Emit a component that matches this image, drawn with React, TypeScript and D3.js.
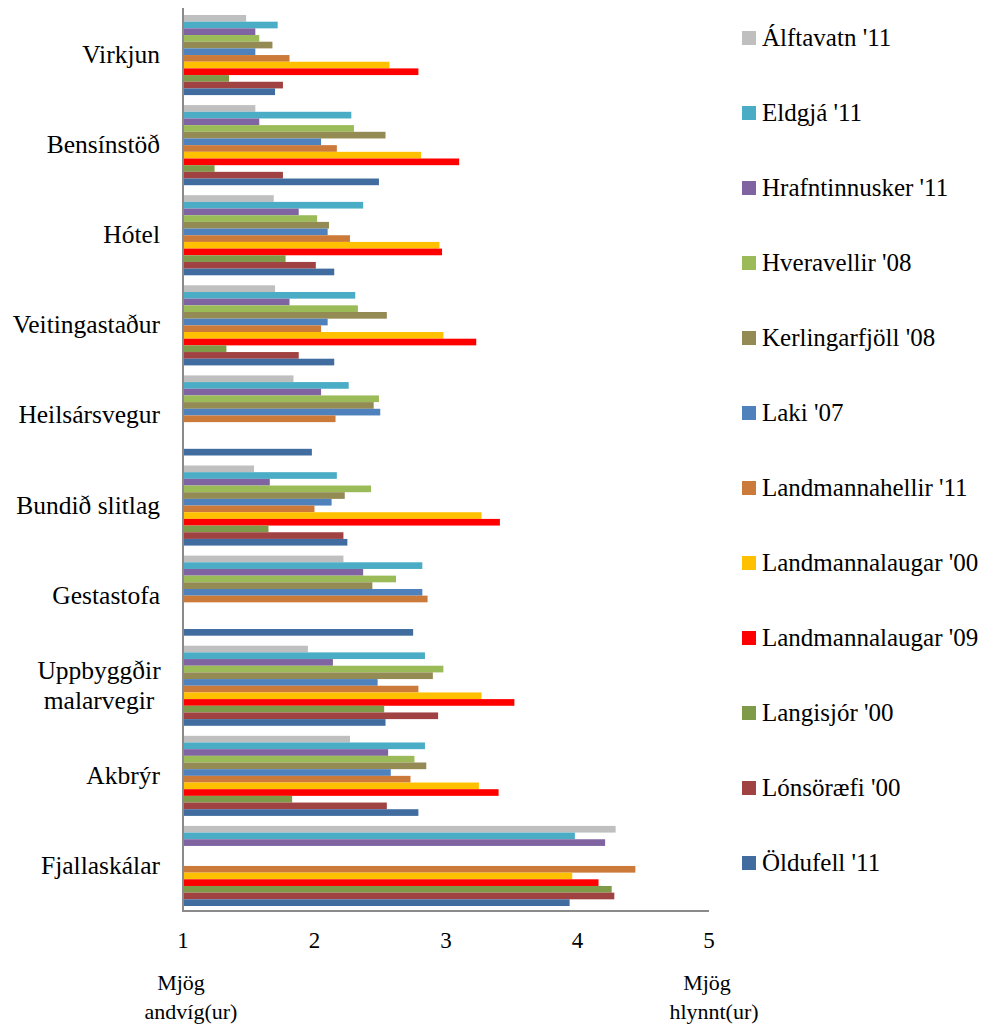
import React from "react";
import * as d3 from "d3";

const categories = [
  "Virkjun",
  "Bensínstöð",
  "Hótel",
  "Veitingastaður",
  "Heilsársvegur",
  "Bundið slitlag",
  "Gestastofa",
  "Uppbyggðir\nmalarvegir",
  "Akbrýr",
  "Fjallaskálar",
];

const seriesNames = [
  "Álftavatn '11",
  "Eldgjá '11",
  "Hrafntinnusker '11",
  "Hveravellir '08",
  "Kerlingarfjöll '08",
  "Laki '07",
  "Landmannahellir '11",
  "Landmannalaugar '00",
  "Landmannalaugar '09",
  "Langisjór '00",
  "Lónsöræfi '00",
  "Öldufell '11",
];

const seriesColors = [
  "#BFBFBF",
  "#4BACC6",
  "#8064A2",
  "#9BBB59",
  "#948A54",
  "#4F81BD",
  "#CC7A3A",
  "#FFC000",
  "#FF0000",
  "#7F9A48",
  "#A04241",
  "#416C9F",
];

// values per series, in category order (null = no bar)
const alftavatn = [1.48, 1.55, 1.69, 1.7, 1.84, 1.54, 2.22, 1.95, 2.27, 4.29];
const eldgja = [1.72, 2.28, 2.37, 2.31, 2.26, 2.17, 2.82, 2.84, 2.84, 3.98];
const hrafntinnusker = [1.55, 1.58, 1.88, 1.81, 2.05, 1.66, 2.37, 2.14, 2.56, 4.21];
const hveravellir = [1.58, 2.3, 2.02, 2.33, 2.49, 2.43, 2.62, 2.98, 2.76, null];
const kerlingarfjoll = [1.68, 2.54, 2.11, 2.55, 2.45, 2.23, 2.44, 2.9, 2.85, null];
const laki = [1.55, 2.05, 2.1, 2.1, 2.5, 2.13, 2.82, 2.48, 2.58, null];
const landmannahellir = [1.81, 2.17, 2.27, 2.05, 2.16, 2.0, 2.86, 2.79, 2.73, 4.44];
const landmannalaugar00 = [2.57, 2.81, 2.95, 2.98, null, 3.27, null, 3.27, 3.25, 3.96];
const landmannalaugar09 = [2.79, 3.1, 2.97, 3.23, null, 3.41, null, 3.52, 3.4, 4.16];
const langisjor = [1.35, 1.24, 1.78, 1.33, null, 1.65, null, 2.53, 1.83, 4.26];
const lonsoraefi = [1.76, 1.76, 2.01, 1.88, null, 2.22, null, 2.94, 2.55, 4.28];
const oldufell = [1.7, 2.49, 2.15, 2.15, 1.98, 2.25, 2.75, 2.54, 2.79, 3.94];

const seriesValues: (number | null)[][] = [
  alftavatn,
  eldgja,
  hrafntinnusker,
  hveravellir,
  kerlingarfjoll,
  laki,
  landmannahellir,
  landmannalaugar00,
  landmannalaugar09,
  langisjor,
  lonsoraefi,
  oldufell,
];

const xTicks = [1, 2, 3, 4, 5];
const leftAxisTitle = ["Mjög", "andvíg(ur)"];
const rightAxisTitle = ["Mjög", "hlynnt(ur)"];

const W = 983;
const H = 1027;
const FONT = "'Liberation Serif', 'DejaVu Serif', serif";

export default function App() {
  const plotLeft = 183;
  const plotRight = 709;
  const plotTop = 10;
  const plotBottom = 911;

  const x = d3.scaleLinear().domain([1, 5]).range([plotLeft, plotRight]);
  const y = d3
    .scaleBand<string>()
    .domain(categories)
    .range([plotTop, plotBottom])
    .padding(0);
  const inner = d3
    .scaleBand<string>()
    .domain(seriesNames)
    .range([0, y.bandwidth()])
    .paddingInner(0)
    .paddingOuter(0.75);

  const axisColor = "#8A8A8A";

  return (
    <svg
      width={W}
      height={H}
      style={{ position: "absolute", left: 0, top: 0, background: "#fff" }}
      fontFamily={FONT}
    >
      <rect x={0} y={0} width={W} height={H} fill="#fff" />
      {/* bars */}
      {categories.map((cat, ci) => (
        <g key={cat}>
          {seriesNames.map((s, si) => {
            const v = seriesValues[si][ci];
            if (v == null) return null;
            return (
              <rect
                key={s}
                x={x(1)}
                y={(y(cat) as number) + (inner(s) as number)}
                width={x(v) - x(1)}
                height={inner.bandwidth()}
                fill={seriesColors[si]}
              />
            );
          })}
        </g>
      ))}
      {/* axes */}
      <line x1={plotLeft} x2={plotLeft} y1={plotTop - 2} y2={plotBottom} stroke={axisColor} strokeWidth={2} />
      <line x1={plotLeft - 1} x2={plotRight} y1={plotBottom} y2={plotBottom} stroke={axisColor} strokeWidth={2} />
      {/* category labels */}
      {categories.map((cat) => {
        const lines = cat.split("\n");
        const cy = (y(cat) as number) + y.bandwidth() / 2;
        const lh = 30;
        const multi = lines.length > 1;
        return (
          <text
            key={cat}
            x={multi ? 99 : 160}
            textAnchor={multi ? "middle" : "end"}
            fontSize={25.5}
            fill="#000"
          >
            {lines.map((ln, i) => (
              <tspan key={i} x={multi ? 99 : 160} y={cy + 8 + (i - (lines.length - 1) / 2) * lh}>
                {ln}
              </tspan>
            ))}
          </text>
        );
      })}
      {/* x tick labels */}
      {xTicks.map((t) => (
        <text key={t} x={x(t)} y={948} textAnchor="middle" fontSize={23} fill="#000">
          {t}
        </text>
      ))}
      {/* axis end titles */}
      <text textAnchor="middle" fontSize={22} fill="#000">
        <tspan x={181} y={990}>{leftAxisTitle[0]}</tspan>
        <tspan x={191} y={1019}>{leftAxisTitle[1]}</tspan>
      </text>
      <text textAnchor="middle" fontSize={22} fill="#000">
        <tspan x={707} y={990}>{rightAxisTitle[0]}</tspan>
        <tspan x={714} y={1019}>{rightAxisTitle[1]}</tspan>
      </text>
      {/* legend */}
      {seriesNames.map((s, i) => {
        const cy = 38 + i * 75;
        return (
          <g key={s}>
            <rect x={742} y={cy - 7} width={14} height={14} fill={seriesColors[i]} />
            <text x={762} y={cy + 8} fontSize={25} fill="#000">
              {s}
            </text>
          </g>
        );
      })}
    </svg>
  );
}
